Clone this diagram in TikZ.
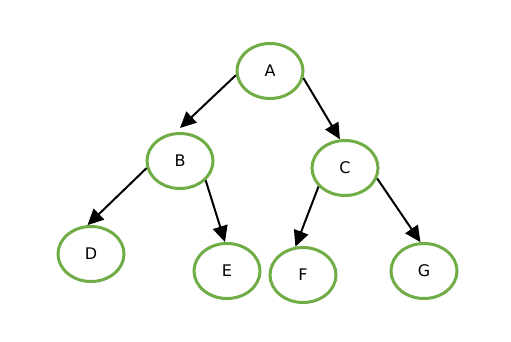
\documentclass[tikz,border=0pt]{standalone}
\usepackage{fontspec}
\setmainfont{DejaVu Sans}
\usetikzlibrary{shapes.geometric,arrows.meta}
\definecolor{nodegreen}{HTML}{70AD47}
\begin{document}
\begin{tikzpicture}[x=1pt,y=-1pt,
  treenode/.style={ellipse,draw=nodegreen,line width=3pt,minimum width=66pt,minimum height=55pt,inner sep=0pt,font=\fontsize{16}{19}\selectfont},
  edge/.style={line width=2pt,-{Triangle[length=16pt,width=15pt]}}]
\useasboundingbox (0,0) rectangle (511,341);
\fill[white] (0,0) rectangle (511,341);
\node[treenode] (A) at (270,71) {\raisebox{-2pt}{A}};
\node[treenode] (B) at (180,161) {\raisebox{-1pt}{B}};
\node[treenode] (C) at (345,168) {\raisebox{-2pt}{C}};
\node[treenode] (D) at (91,254) {\raisebox{-1pt}{D}};
\node[treenode] (E) at (227,271) {\raisebox{-2pt}{E}};
\node[treenode] (F) at (303,275) {\raisebox{-2pt}{F}};
\node[treenode] (G) at (424,271) {\raisebox{-2pt}{G}};
\draw[edge] (A.187) -- ([yshift=4pt]B.north);
\draw[edge] (A.348) -- (C.100);
\draw[edge] (B.192) -- (D.97);
\draw[edge] (B.323) -- (E.94);
\draw[edge] (C.215) -- (F.105);
\draw[edge] (C.342) -- (G.97);
\end{tikzpicture}
\end{document}
